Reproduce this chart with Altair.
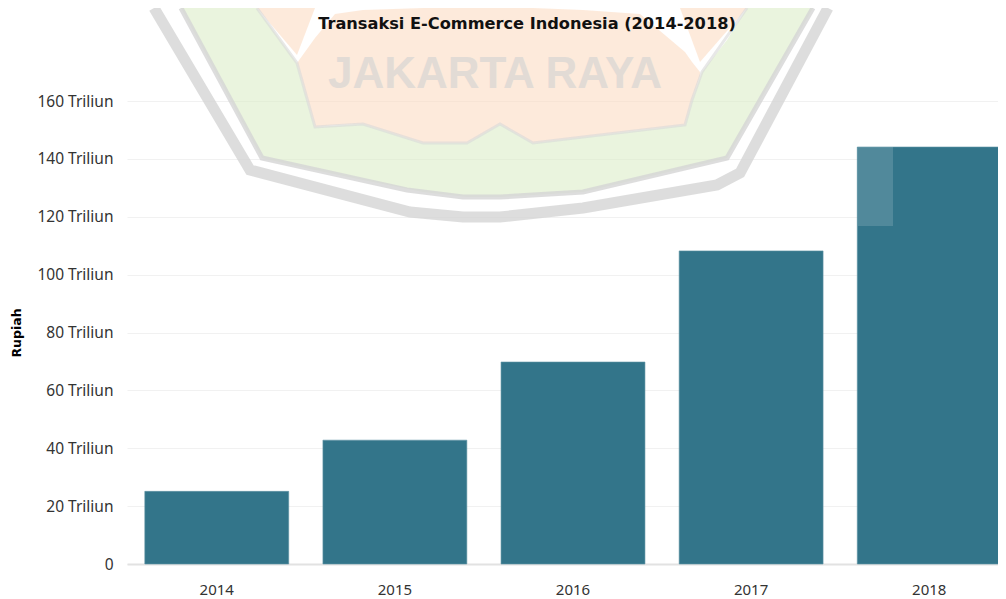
import altair as alt
import pandas as pd

years = ["2014", "2015", "2016", "2017", "2018"]
values = [25.1, 42.8, 69.8, 108.2, 144.1]
y_ticks = [0, 20, 40, 60, 80, 100, 120, 140, 160]

TITLE = "Transaksi E-Commerce Indonesia (2014-2018)"
Y_TITLE = "Rupiah"
WATERMARK = "JAKARTA RAYA"
FONT = "Noto Sans"

# Background crest (faded logo), in page pixels
green_x = [181, 257, 262, 297, 315, 363, 423, 467, 500, 533, 583, 685, 692, 702, 727, 747, 813]
green_top = [8, 8, 15, 63, 127, 124, 143, 143, 124, 143, 137, 125, 100, 72, 40, 8, 8]
green_bot = [8, 149, 158, 166, 170, 180, 192, 197, 197, 195, 192, 168, 166, 164, 158, 123, 8]

peach_x = [297, 315, 335, 363, 423, 467, 500, 533, 583, 640, 685, 692, 700]
peach_top = [63, 38, 14, 10, 8, 8, 8, 8, 10, 14, 52, 62, 72]
peach_bot = [63, 127, 125, 124, 143, 143, 124, 143, 137, 130, 125, 100, 76]

sliver_l_x = [257, 297, 315]
sliver_l_top = [8, 8, 8]
sliver_l_bot = [8, 55, 8]
sliver_r_x = [680, 700, 747]
sliver_r_top = [8, 8, 8]
sliver_r_bot = [8, 62, 8]

outer_x = [154, 250, 410, 463, 500, 583, 717, 740, 828]
outer_y = [8, 170, 212, 217, 217, 208, 185, 173, 8]
inner_x = [181, 262, 407, 463, 500, 583, 727, 813]
inner_y = [8, 158, 190, 197, 197, 192, 158, 8]
banner_x = [257, 297, 315, 363, 423, 467, 500, 533, 583, 685, 692, 702, 747]
banner_y = [8, 63, 127, 124, 143, 143, 124, 143, 137, 125, 100, 72, 8]

wm_x = [495]
wm_y = [75]
title_x = [527]
title_y = [24]
patch_x = [858]
patch_x2 = [893]
patch_y = [147]
patch_y2 = [226]

BAND_W, W, H = 892, 871, 463
px_x = alt.Scale(domain=[127, 127 + BAND_W], range=[0, BAND_W], zero=False, nice=False)
px_y = alt.Scale(domain=[101, 101 + H], range=[0, H], zero=False, nice=False)
X = lambda f: alt.X(f, type="quantitative", scale=px_x, axis=None)
Y = lambda f: alt.Y(f, type="quantitative", scale=px_y, axis=None)


def area(xs, top, bot, color, op):
    d = pd.DataFrame({"x": xs, "t": top, "b": bot})
    return alt.Chart(d).mark_area(color=color, opacity=op, interpolate="linear", clip=False).encode(
        x=X("x"), y=Y("t"), y2="b"
    )


def line(xs, ys, color, w, op):
    d = pd.DataFrame({"x": xs, "y": ys, "o": range(len(xs))})
    return alt.Chart(d).mark_line(color=color, strokeWidth=w, opacity=op, clip=False).encode(
        x=X("x"), y=Y("y"), order="o:Q"
    )


crest = alt.layer(
    area(green_x, green_top, green_bot, "#dcedc8", 0.6),
    area(peach_x, peach_top, peach_bot, "#fbd9bd", 0.55),
    area(sliver_l_x, sliver_l_top, sliver_l_bot, "#fbd9bd", 0.55),
    area(sliver_r_x, sliver_r_top, sliver_r_bot, "#fbd9bd", 0.55),
    line(outer_x, outer_y, "#d4d4d4", 11, 0.8),
    line(inner_x, inner_y, "#d4d4d4", 5, 0.8),
    line(banner_x, banner_y, "#d8d8d8", 3, 0.6),
    alt.Chart(pd.DataFrame({"x": wm_x, "y": wm_y, "t": [WATERMARK]})).mark_text(
        font="Liberation Sans", fontWeight="bold", fontSize=44, color="#d9d6d3", opacity=0.75, clip=False
    ).encode(x=X("x"), y=Y("y"), text="t:N"),
)

df = pd.DataFrame({"year": years, "value": values})
bars = alt.Chart(df).mark_bar(color="#33758a", stroke="#5f93a4", strokeWidth=0.6).encode(
    x=alt.X(
        "year:N",
        scale=alt.Scale(range=[0, BAND_W], paddingInner=0.192, paddingOuter=0.1),
        axis=alt.Axis(
            title=None, labelAngle=0, ticks=False, domainColor="#e2e2e2", domainWidth=2,
            labelPadding=18, labelFont=FONT, labelFontSize=15, labelColor="#333333", grid=False,
        ),
    ),
    y=alt.Y(
        "value:Q",
        scale=alt.Scale(domain=[0, 160], nice=False),
        axis=alt.Axis(
            title=Y_TITLE, values=y_ticks, ticks=False, domain=False,
            labelExpr="datum.value == 0 ? '0' : datum.value + ' Triliun'",
            labelPadding=14, labelFont=FONT, labelFontSize=15.5, labelColor="#333333",
            gridColor="#f1f1f1", gridWidth=1.2, grid=True,
            titleFont="DejaVu Sans", titleFontSize=12.5, titleFontWeight="bold",
            titleColor="#000000", titleX=-104, titleY=H / 2,
        ),
    ),
)

patch = alt.Chart(
    pd.DataFrame({"x": patch_x, "x2": patch_x2, "y": patch_y, "y2": patch_y2})
).mark_rect(color="#ffffff", opacity=0.15).encode(x=X("x"), x2="x2", y=Y("y"), y2="y2")

title = alt.Chart(pd.DataFrame({"x": title_x, "y": title_y, "t": [TITLE]})).mark_text(
    font="DejaVu Sans", fontSize=16.2, fontWeight="bold", color="#111111", clip=False
).encode(x=X("x"), y=Y("y"), text="t:N")

chart = (
    alt.layer(crest, bars, patch, title)
    .resolve_scale(x="independent", y="independent")
    .properties(
        width=W,
        height=H,
        autosize=alt.AutoSizeParams(type="none"),
        padding={"left": 119, "top": 93, "right": 0, "bottom": 36},
    )
    .configure_view(stroke=None)
)

chart.save("out.html", embed_options={"renderer": "svg", "actions": False})
